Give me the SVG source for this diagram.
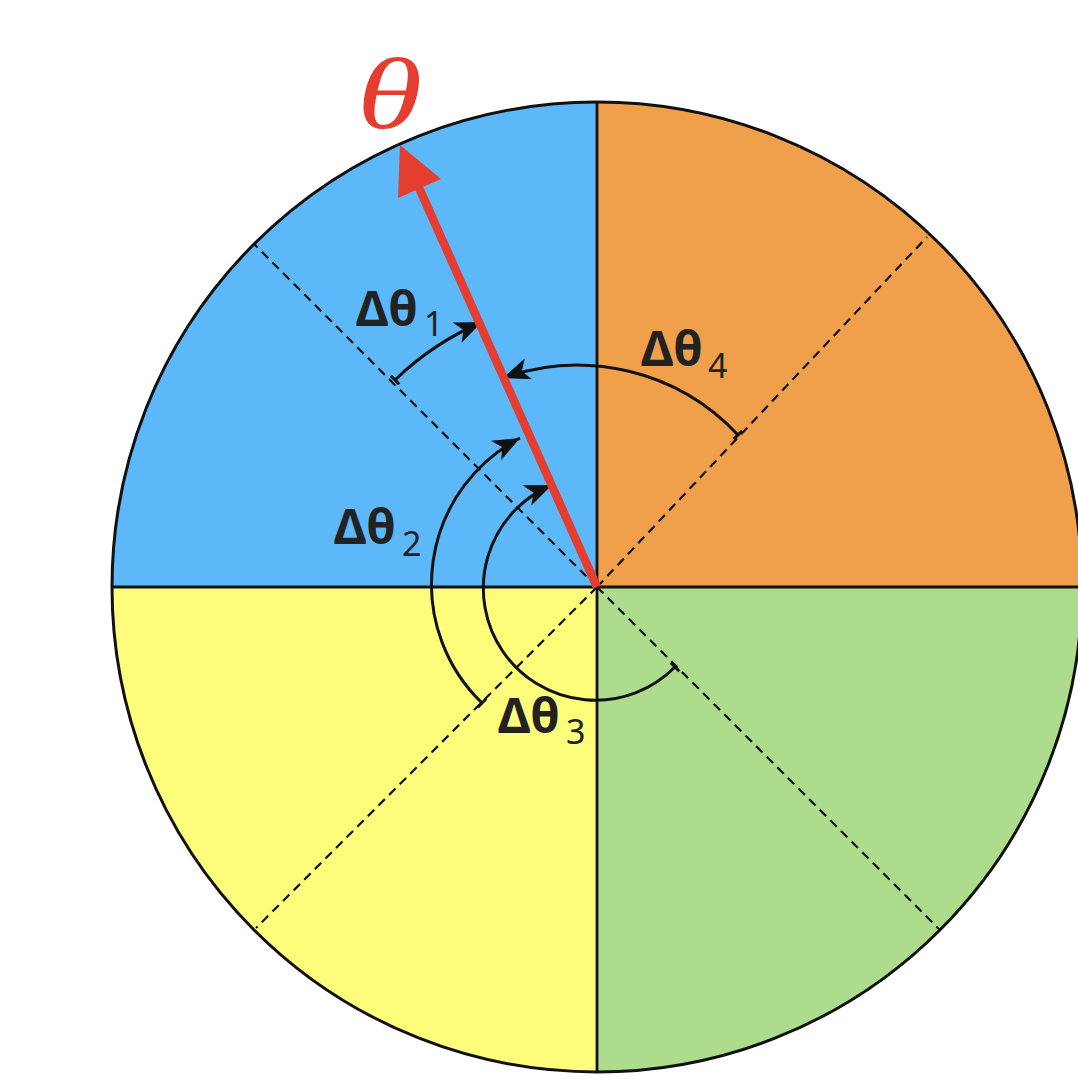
<svg xmlns="http://www.w3.org/2000/svg" width="1078" height="1088" viewBox="0 0 1078 1088">
<style>
.quad{stroke:none}
.rim{fill:none;stroke:#111;stroke-width:3}
.axis{stroke:#111;stroke-width:2.8;fill:none}
.diag{stroke:#111;stroke-width:2.2;stroke-dasharray:9 6;fill:none}
.arc{fill:none;stroke:#111;stroke-width:3;marker-start:url(#tick);marker-end:url(#ah)}
.lbl{font-family:"Noto Sans","DejaVu Sans",Arial,sans-serif;font-weight:bold;font-size:48px;fill:#222}
.sub{font-weight:normal;font-size:34px}
</style>
<defs>
<marker id="ah" markerUnits="userSpaceOnUse" markerWidth="28" markerHeight="24" viewBox="0 0 28 24" refX="27" refY="11" orient="auto">
<path d="M0,0 L27,11 L0,22 L7,11 z" fill="#111"/>
</marker>
<marker id="tick" markerUnits="userSpaceOnUse" markerWidth="4" markerHeight="14" viewBox="0 0 4 14" refX="2" refY="7" orient="auto">
<path d="M2,1 L2,13" stroke="#111" stroke-width="3"/>
</marker>
</defs>
<rect width="1078" height="1088" fill="#fff"/>
<g id="quadrants">
<path id="q-blue" class="quad" fill="#5cb8f8" d="M597,587 L112,587 A485,485 0 0,1 597,102 Z"/>
<path id="q-orange" class="quad" fill="#f0a04a" d="M597,587 L597,102 A485,485 0 0,1 1082,587 Z"/>
<path id="q-green" class="quad" fill="#acdc8c" d="M597,587 L1082,587 A485,485 0 0,1 597,1072 Z"/>
<path id="q-yellow" class="quad" fill="#fefd7b" d="M597,587 L597,1072 A485,485 0 0,1 112,587 Z"/>
</g>
<g id="guides">
<line class="diag" x1="597" y1="587" x2="254" y2="244"/>
<line class="diag" x1="597" y1="587" x2="940" y2="930"/>
<line class="diag" x1="597" y1="587" x2="927" y2="237"/>
<line class="diag" x1="597" y1="587" x2="256" y2="928"/>
<line class="axis" x1="112" y1="587" x2="1082" y2="587"/>
<line class="axis" x1="597" y1="102" x2="597" y2="1072"/>
<circle class="rim" cx="597" cy="587" r="485"/>
</g>
<g id="connectors">
<path id="arc1" class="arc" d="M395,380 A289,289 0 0,1 482,322"/>
<path id="arc2" class="arc" d="M482,703 A165,165 0 0,1 520,438"/>
<path id="arc3" class="arc" d="M675,667 A112,112 0 1,1 552,485"/>
<path id="arc4" class="arc" d="M738,435 A220,220 0 0,0 503,378"/>
<g id="theta-arrow">
<line x1="597" y1="587" x2="416" y2="181" stroke="#e53d30" stroke-width="8.5"/>
<polygon points="400,145 441,179 398,198" fill="#e53d30"/>
</g>
</g>
<g id="label-theta"><text transform="translate(357,128) scale(1.3,1)" x="0" y="0" font-family="'Liberation Serif','Times New Roman',serif" font-style="italic" font-size="102" fill="#e53d30">θ</text></g>
<g id="label-d1"><text class="lbl" x="356" y="326">Δθ<tspan class="sub" x="424" y="336">1</tspan></text></g>
<g id="label-d2"><text class="lbl" x="334" y="544">Δθ<tspan class="sub" x="402" y="556">2</tspan></text></g>
<g id="label-d3"><text class="lbl" x="498" y="733">Δθ<tspan class="sub" x="566" y="744">3</tspan></text></g>
<g id="label-d4"><text class="lbl" x="641" y="366">Δθ<tspan class="sub" x="708" y="378">4</tspan></text></g>
</svg>
